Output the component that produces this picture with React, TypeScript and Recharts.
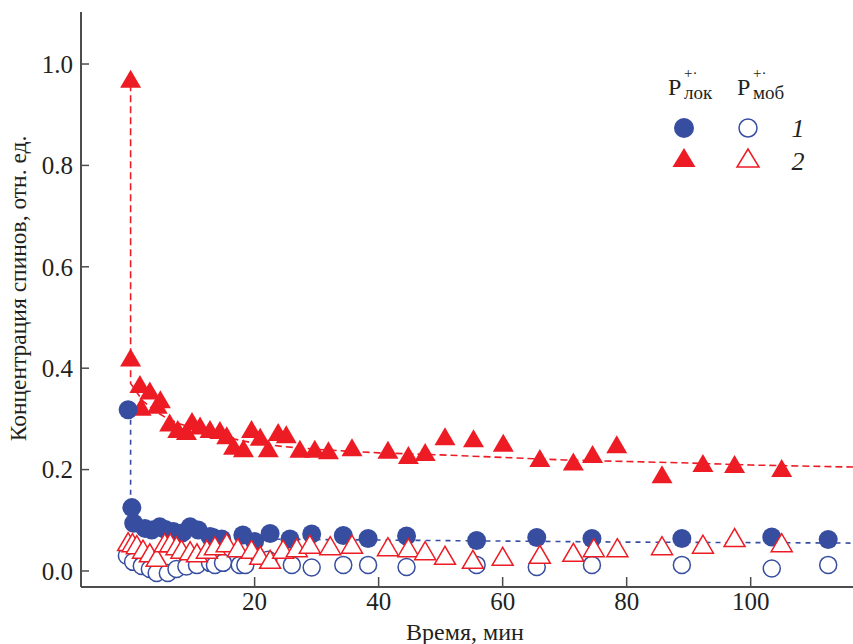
import React from 'react';
import { ComposedChart, Scatter, Line, XAxis, YAxis, Legend } from 'recharts';

// Time, min / spin concentration, rel. units
const lokFilledTri: [number, number][] = [
  [0, 0.965], [0, 0.415], [1.5, 0.363], [3.1, 0.35], [4.8, 0.333], [1.7, 0.318], [4.3, 0.322],
  [6.3, 0.287], [7.6, 0.274], [9.0, 0.27], [9.9, 0.29], [11.2, 0.281], [12.8, 0.274], [14.4, 0.272],
  [15.5, 0.262], [16.6, 0.241], [18.2, 0.236], [19.5, 0.274], [20.9, 0.259], [22.2, 0.236],
  [23.8, 0.268], [25.1, 0.264], [27.3, 0.235], [29.7, 0.235], [31.9, 0.232], [35.7, 0.238],
  [41.5, 0.233], [44.8, 0.223], [47.5, 0.229], [50.7, 0.26], [55.3, 0.256], [60.1, 0.247],
  [66.0, 0.217], [71.4, 0.21], [74.5, 0.225], [78.4, 0.244], [85.7, 0.185], [92.3, 0.207],
  [97.4, 0.205], [105.0, 0.197],
];

const lokFilledCirc: [number, number][] = [
  [-0.4, 0.318], [0.2, 0.125], [0.5, 0.094], [2.3, 0.084], [3.4, 0.081], [4.7, 0.087],
  [5.6, 0.082], [6.9, 0.078], [8.3, 0.075], [9.6, 0.087], [10.9, 0.081], [12.8, 0.068],
  [13.3, 0.066], [14.7, 0.063], [18.1, 0.071], [20.0, 0.058], [22.5, 0.074], [25.7, 0.063],
  [29.2, 0.073], [34.3, 0.07], [38.3, 0.064], [44.5, 0.069], [55.8, 0.06], [65.5, 0.066],
  [74.4, 0.064], [88.9, 0.064], [103.4, 0.067], [112.5, 0.062],
];

const mobOpenCirc: [number, number][] = [
  [-0.6, 0.03], [0.4, 0.018], [1.8, 0.01], [3.1, 0.004], [4.2, -0.004], [6.0, -0.004],
  [7.4, 0.004], [9.0, 0.009], [10.7, 0.012], [12.8, 0.016], [13.6, 0.012], [14.9, 0.016],
  [17.6, 0.012], [18.5, 0.012], [22.2, 0.022], [26.0, 0.012], [29.2, 0.007], [34.3, 0.012],
  [38.3, 0.012], [44.5, 0.008], [55.8, 0.012], [65.5, 0.008], [74.4, 0.012], [88.9, 0.012],
  [103.4, 0.005], [112.5, 0.012],
];

const mobOpenTri: [number, number][] = [
  [-0.4, 0.052], [0.3, 0.05], [1.0, 0.046], [2.0, 0.037], [3.1, 0.03], [4.2, 0.021],
  [5.5, 0.05], [6.4, 0.05], [7.4, 0.044], [8.2, 0.037], [9.6, 0.034], [10.7, 0.03],
  [12.3, 0.037], [13.6, 0.044], [15.5, 0.05], [17.3, 0.04], [19.5, 0.037], [20.9, 0.025],
  [22.5, 0.017], [24.6, 0.037], [26.8, 0.04], [28.9, 0.047], [32.2, 0.044], [35.7, 0.047],
  [41.5, 0.042], [44.8, 0.04], [47.5, 0.034], [50.7, 0.025], [55.2, 0.017], [60.0, 0.023],
  [66.0, 0.027], [71.4, 0.031], [74.7, 0.04], [78.5, 0.04], [85.7, 0.044], [92.3, 0.047],
  [97.4, 0.06], [105.0, 0.05],
];

const fitRed: [number, number][] = [
  [0, 0.96], [0, 0.37], [2, 0.335], [4, 0.315], [6, 0.3], [8, 0.29], [10, 0.282], [13, 0.272],
  [16, 0.262], [20, 0.252], [25, 0.245], [30, 0.24], [40, 0.233], [50, 0.229], [60, 0.224],
  [70, 0.219], [80, 0.216], [90, 0.213], [100, 0.209], [116.5, 0.205],
];

const fitBlue: [number, number][] = [
  [0, 0.318], [0, 0.1], [1, 0.088], [2, 0.08], [4, 0.072], [6, 0.068], [10, 0.065], [15, 0.063],
  [20, 0.063], [30, 0.062], [40, 0.061], [60, 0.059], [80, 0.057], [100, 0.056], [116.5, 0.055],
];

const xTicks = [20, 40, 60, 80, 100];
const yTicks = [0, 0.2, 0.4, 0.6, 0.8, 1.0];

const xLabel = 'Время, мин';
const yLabel = 'Концентрация спинов, отн. ед.';
const legendLok = 'лок';
const legendMob = 'моб';
const legendSup = '+·';
const legendRow1 = '1';
const legendRow2 = '2';

const BLUE = '#374ea0';
const RED = '#ed1c24';
const FONT = 'Liberation Serif';
const INK = '#231f20';

const toPts = (a: [number, number][]) => a.map(([x, y]) => ({ x, y }));

const TRI_W = 21;
const TRI_H = 18;
const triPoints = (cx: number, cy: number) =>
  `${cx},${cy - (TRI_H * 2) / 3} ${cx - TRI_W / 2},${cy + TRI_H / 3} ${cx + TRI_W / 2},${cy + TRI_H / 3}`;

const FilledTri = (p: any) => <polygon points={triPoints(p.cx, p.cy)} fill={RED} />;
const OpenTri = (p: any) => (
  <polygon points={triPoints(p.cx, p.cy)} fill="#fff" stroke={RED} strokeWidth={1.5} />
);
const FilledCirc = (p: any) => <circle cx={p.cx} cy={p.cy} r={9.5} fill={BLUE} />;
const OpenCirc = (p: any) => (
  <circle cx={p.cx} cy={p.cy} r={8.5} fill="#fff" stroke={BLUE} strokeWidth={1.5} />
);

const LegendContent = () => (
  <svg width={200} height={120} style={{ display: 'block', overflow: 'visible' }}>
    <g style={{ fontFamily: FONT }} fill={INK}>
      <text x={18} y={35} fontSize={24}>P</text>
      <text x={34} y={18} fontSize={15}>{legendSup}</text>
      <text x={34} y={39} fontSize={19}>{legendLok}</text>
      <text x={87} y={35} fontSize={24}>P</text>
      <text x={103} y={18} fontSize={15}>{legendSup}</text>
      <text x={103} y={39} fontSize={19}>{legendMob}</text>
      <text x={148} y={77} fontSize={26} fontStyle="italic" textAnchor="middle">{legendRow1}</text>
      <text x={148} y={110} fontSize={26} fontStyle="italic" textAnchor="middle">{legendRow2}</text>
    </g>
    <circle cx={34} cy={68} r={10} fill={BLUE} />
    <circle cx={98} cy={68} r={9} fill="#fff" stroke={BLUE} strokeWidth={1.5} />
    <polygon points="34,88 22.5,107 45.5,107" fill={RED} />
    <polygon points="98,89 87,107 109,107" fill="#fff" stroke={RED} strokeWidth={1.5} />
  </svg>
);

const YLabelContent = (props: any) => {
  const vb = props.viewBox || { x: 0, y: 12, width: 81, height: 575 };
  const cx = vb.x + 18;
  const cy = vb.y + vb.height / 2 - 11;
  return (
    <text
      x={cx}
      y={cy}
      transform={`rotate(-90, ${cx}, ${cy})`}
      textAnchor="middle"
      dominantBaseline="central"
      style={{ fontFamily: FONT }}
      fontSize={23.5}
      fill={INK}
    >
      {yLabel}
    </text>
  );
};

const XLabelContent = (props: any) => {
  const vb = props.viewBox || { x: 81, y: 587, width: 772, height: 57 };
  return (
    <text
      x={vb.x + vb.width / 2 - 2}
      y={vb.y + 53}
      textAnchor="middle"
      style={{ fontFamily: FONT }}
      fontSize={24}
      fill={INK}
    >
      {xLabel}
    </text>
  );
};

const tickStyle = { fontSize: 25, fill: INK, fontFamily: FONT, style: { fontFamily: FONT } };

export default function App() {
  return (
    <div style={{ position: 'absolute', left: 0, top: 0, width: 853, height: 644, background: '#fff', fontFamily: FONT }}>
      <ComposedChart width={853} height={644} margin={{ top: 12, right: 0, bottom: 0, left: 0 }}>
        <XAxis
          type="number"
          dataKey="x"
          domain={[-8, 116.5]}
          ticks={xTicks}
          interval={0}
          allowDataOverflow
          height={57}
          tickSize={-10}
          tickMargin={15}
          axisLine={{ stroke: '#4d4d4d', strokeWidth: 2 }}
          tickLine={{ stroke: '#4d4d4d', strokeWidth: 1.5 }}
          tick={tickStyle}
          label={{ content: XLabelContent }}
        />
        <YAxis
          type="number"
          dataKey="y"
          domain={[-0.0316, 1.1026]}
          ticks={yTicks}
          interval={0}
          allowDataOverflow
          width={81}
          tickSize={-8}
          tickMargin={16}
          tickFormatter={(v: number) => v.toFixed(1)}
          axisLine={{ stroke: '#4d4d4d', strokeWidth: 2 }}
          tickLine={{ stroke: '#4d4d4d', strokeWidth: 1.5 }}
          tick={tickStyle}
          label={{ content: YLabelContent }}
        />
        <Scatter data={toPts(lokFilledTri)} dataKey="y" shape={FilledTri} isAnimationActive={false} />
        <Line
          data={toPts(fitBlue)}
          dataKey="y"
          type="linear"
          stroke={BLUE}
          strokeWidth={1.6}
          strokeDasharray="5 5"
          dot={false}
          activeDot={false}
          isAnimationActive={false}
        />
        <Scatter data={toPts(lokFilledCirc)} dataKey="y" shape={FilledCirc} isAnimationActive={false} />
        <Scatter data={toPts(mobOpenCirc)} dataKey="y" shape={OpenCirc} isAnimationActive={false} />
        <Scatter data={toPts(mobOpenTri)} dataKey="y" shape={OpenTri} isAnimationActive={false} />
        <Line
          data={toPts(fitRed)}
          dataKey="y"
          type="linear"
          stroke={RED}
          strokeWidth={1.6}
          strokeDasharray="7 4"
          dot={false}
          activeDot={false}
          isAnimationActive={false}
        />
        <Legend
          layout="horizontal"
          verticalAlign="middle"
          align="center"
          wrapperStyle={{ left: 650, top: 60, width: 200, height: 120 }}
          content={LegendContent}
        />
      </ComposedChart>
    </div>
  );
}
